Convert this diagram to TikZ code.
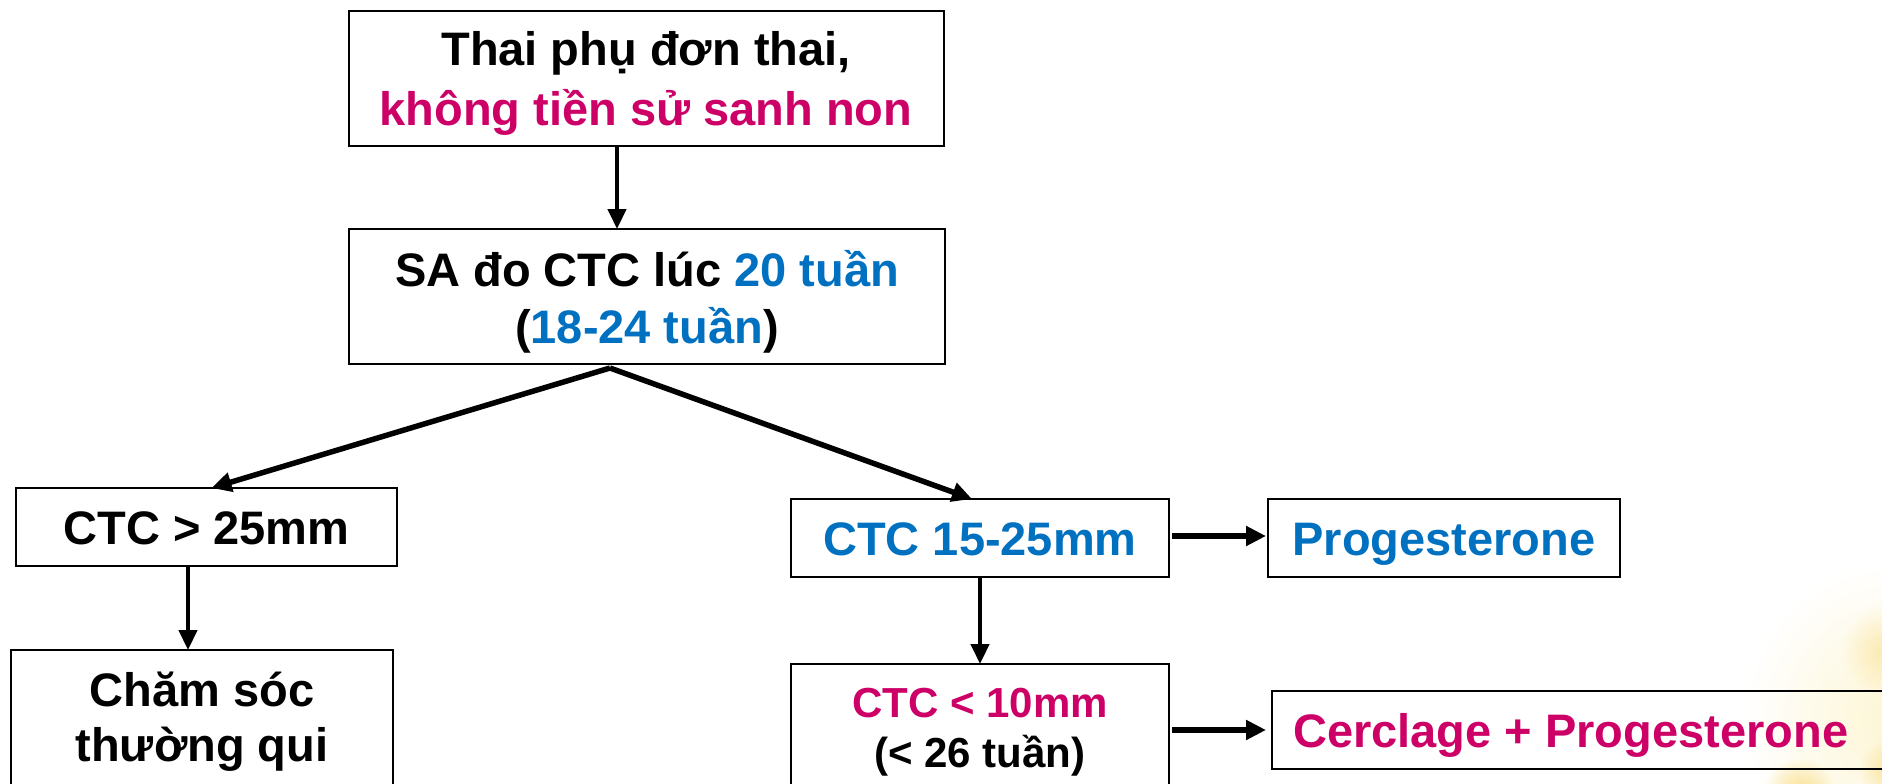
\documentclass[tikz,border=0pt]{standalone}
\usepackage{fontspec}
\setmainfont{Liberation Sans}
\usetikzlibrary{arrows.meta}
\definecolor{pinkred}{RGB}{204,0,102}
\definecolor{midblue}{RGB}{0,112,192}
\definecolor{petal}{RGB}{253,245,210}
\definecolor{heart}{RGB}{248,218,120}

\begin{document}
\begin{tikzpicture}[x=1pt,y=-1pt,
  box/.style={draw=black, line width=2pt, inner sep=0pt, outer sep=0pt, rectangle},
  txt/.style={anchor=base, inner sep=0pt, font=\fontsize{47}{56}\selectfont\bfseries},
  smalltxt/.style={anchor=base, inner sep=0pt, font=\fontsize{42}{50}\selectfont\bfseries},
  arr/.style={line width=4.5pt, -{Triangle[length=20pt,width=18pt]}},
  thickarr/.style={line width=5.5pt, -{Triangle[length=20pt,width=19pt]}},
  haze/.style={blend mode=multiply}]

% page frame
\useasboundingbox (0,0) rectangle (1882,784);
\clip (0,0) rectangle (1882,784);
\fill[white] (0,0) rectangle (1882,784);

% faint daisies in the lower right corner
\begin{scope}[haze]
  \shade[inner color=petal, outer color=white] (1900,720) circle (160pt);
  \shade[inner color=heart!45!white, outer color=white] (1885,650) circle (45pt);
  \shade[inner color=heart!85!white, outer color=white] (1800,795) circle (38pt);
  \shade[inner color=heart!60!white, outer color=white] (1890,770) circle (32pt);
\end{scope}

% boxes
\node[box, minimum width=595pt, minimum height=135pt] (start) at (646.5,78.5) {};
\node[box, minimum width=596pt, minimum height=135pt] (sa) at (647,296.5) {};
\node[box, minimum width=381pt, minimum height=78pt] (big) at (206.5,527) {};
\node[box, minimum width=382pt, minimum height=160pt] (care) at (202,730) {};
\node[box, minimum width=378pt, minimum height=78pt] (mid) at (980,538) {};
\node[box, minimum width=352pt, minimum height=78pt] (prog) at (1444,538) {};
\node[box, minimum width=378pt, minimum height=150pt] (short) at (980,739) {};
\node[box, minimum width=680pt, minimum height=78pt] (cer) at (1612,730) {};

% texts
\node[txt] (startA) at (646,66) {Thai phụ đơn thai,};
\node[txt, text=pinkred] (startB) at (646,125) {không tiền sử sanh non};
\node[txt] (saA) at (647,286) {SA đo CTC lúc \textcolor{midblue}{20 tuần}};
\node[txt] (saB) at (647,343) {(\textcolor{midblue}{18-24 tuần})};
\node[txt] (bigT) at (206.5,544) {CTC > 25mm};
\node[txt] (careA) at (202,706) {Chăm sóc};
\node[txt] (careB) at (202,761) {thường qui};
\node[txt, text=midblue] (midT) at (980,555) {CTC 15-25mm};
\node[txt, text=midblue] (progT) at (1444,555) {Progesterone};
\node[smalltxt, text=pinkred] (shortA) at (980,717) {CTC < 10mm};
\node[smalltxt] (shortB) at (980,767) {(< 26 tuần)};
\node[txt, text=pinkred, anchor=base west] (cerT) at (1293,747) {Cerclage + Progesterone};

% connectors
\draw[arr] ([xshift=-29.5pt]start.south) -- ([xshift=-30pt]sa.north);
\draw[thickarr] ([xshift=-37pt,yshift=-4pt]sa.south) -- ([xshift=5pt]big.north);
\draw[thickarr] ([xshift=-37pt,yshift=-4pt]sa.south) -- ([xshift=-8pt]mid.north);
\draw[arr] ([xshift=-18.5pt]big.south) -- ([xshift=-14pt]care.north);
\draw[arr] (mid.south) -- (short.north);
\draw[thickarr] ([yshift=2pt,xshift=3pt]mid.east) -- ([yshift=2pt,xshift=-2pt]prog.west);
\draw[thickarr] ([xshift=3pt]short.east |- cer.west) -- ([xshift=-6pt]cer.west);
\end{tikzpicture}
\end{document}
